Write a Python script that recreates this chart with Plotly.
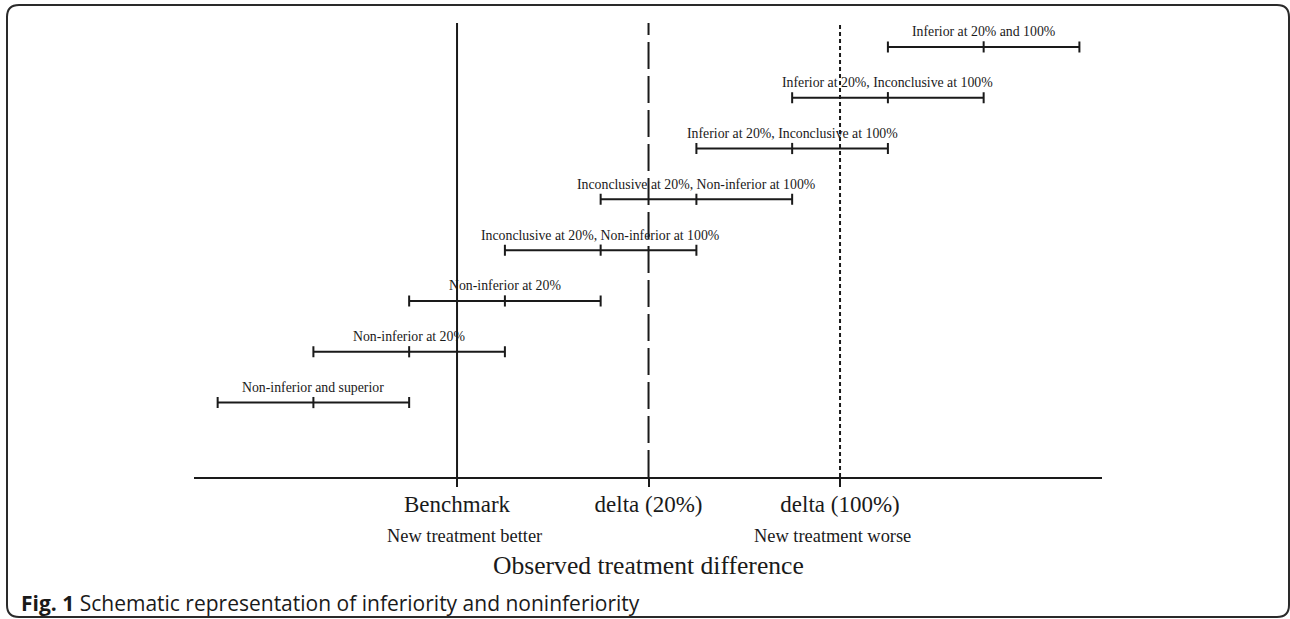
import plotly.graph_objects as go

# ---- data ----
ref_positions = [0, 2, 4]
ref_labels = ["Benchmark", "delta (20%)", "delta (100%)"]
ref_dashes = ["solid", "27px,7px", "4px,3px"]

rows = [1, 2, 3, 4, 5, 6, 7, 8]
ci_lower = [-2.5, -1.5, -0.5, 0.5, 1.5, 2.5, 3.5, 4.5]
ci_center = [-1.5, -0.5, 0.5, 1.5, 2.5, 3.5, 4.5, 5.5]
ci_upper = [-0.5, 0.5, 1.5, 2.5, 3.5, 4.5, 5.5, 6.5]
ci_labels = [
    "Non-inferior and superior",
    "Non-inferior at 20%",
    "Non-inferior at 20%",
    "Inconclusive at 20%, Non-inferior at 100%",
    "Inconclusive at 20%, Non-inferior at 100%",
    "Inferior at 20%, Inconclusive at 100%",
    "Inferior at 20%, Inconclusive at 100%",
    "Inferior at 20% and 100%",
]
side_labels = ["New treatment better", "New treatment worse"]
side_positions = [0.08, 3.92]
axis_title = "Observed treatment difference"
caption_bold = "Fig. 1"
caption_text = "Schematic representation of inferiority and noninferiority"

# ---- layout geometry ----
WIDTH, HEIGHT = 1290, 619
L, T, PW, PH = 194, 23, 908, 454
XR = [-2.747, 6.736]
YR = [-0.465, 8.47]
INK = "#1a1a1a"
SERIF = "Liberation Serif, Times New Roman, serif"
SANS = "Open Sans, Noto Sans, sans-serif"


def pxx(x):
    return (x - L) / PW


def pxy(y):
    return (T + PH - y) / PH


fig = go.Figure()

# reference vertical lines
for xv, dash in zip(ref_positions, ref_dashes):
    fig.add_trace(go.Scatter(
        x=[xv, xv], y=YR, mode="lines",
        line=dict(color=INK, width=2, dash=dash),
        hoverinfo="skip", showlegend=False, cliponaxis=False,
    ))

# confidence intervals
fig.add_trace(go.Scatter(
    x=ci_center, y=rows, mode="markers",
    marker=dict(symbol="line-ns", size=8, line=dict(color=INK, width=2), color=INK),
    error_x=dict(
        type="data", symmetric=False,
        array=[u - c for u, c in zip(ci_upper, ci_center)],
        arrayminus=[c - lo for c, lo in zip(ci_center, ci_lower)],
        color=INK, thickness=2, width=5.5,
    ),
    hoverinfo="skip", showlegend=False, cliponaxis=False,
))

annotations = []
for c, r, t in zip(ci_center, rows, ci_labels):
    annotations.append(dict(
        x=c, y=r, xref="x", yref="y", text=t, showarrow=False,
        yshift=15, font=dict(family=SERIF, size=13.8, color=INK),
    ))

for xs, t in zip(side_positions, side_labels):
    annotations.append(dict(
        x=xs, y=pxy(536), xref="x", yref="paper", text=t, showarrow=False,
        xanchor="center", yanchor="middle",
        font=dict(family=SERIF, size=18.4, color=INK),
    ))

annotations.append(dict(
    x=0.5, y=pxy(565), xref="paper", yref="paper", text=axis_title,
    showarrow=False, xanchor="center", yanchor="middle",
    font=dict(family=SERIF, size=25.6, color=INK),
))

annotations.append(dict(
    x=pxx(19), y=pxy(603), xref="paper", yref="paper",
    text="<b>" + caption_bold + "</b> " + caption_text,
    showarrow=False, xanchor="left", yanchor="middle",
    font=dict(family=SANS, size=21, color=INK),
))

# rounded border
x0, x1, y0, y1, rr = 7, 1289, 5, 617, 12
path = (
    f"M {pxx(x0+rr)} {pxy(y0)} L {pxx(x1-rr)} {pxy(y0)} "
    f"Q {pxx(x1)} {pxy(y0)} {pxx(x1)} {pxy(y0+rr)} "
    f"L {pxx(x1)} {pxy(y1-rr)} Q {pxx(x1)} {pxy(y1)} {pxx(x1-rr)} {pxy(y1)} "
    f"L {pxx(x0+rr)} {pxy(y1)} Q {pxx(x0)} {pxy(y1)} {pxx(x0)} {pxy(y1-rr)} "
    f"L {pxx(x0)} {pxy(y0+rr)} Q {pxx(x0)} {pxy(y0)} {pxx(x0+rr)} {pxy(y0)} Z"
)
shapes = [dict(type="path", xref="paper", yref="paper", path=path,
               line=dict(color="#2a2a2a", width=2), fillcolor="rgba(0,0,0,0)")]

fig.update_layout(
    width=WIDTH, height=HEIGHT,
    margin=dict(l=L, r=WIDTH - L - PW, t=T, b=HEIGHT - T - PH, pad=0),
    paper_bgcolor="white", plot_bgcolor="white",
    annotations=annotations, shapes=shapes,
    xaxis=dict(
        range=XR, showgrid=False, zeroline=False,
        showline=True, linecolor=INK, linewidth=2,
        tickmode="array", tickvals=ref_positions, ticktext=ref_labels,
        ticks="outside", ticklen=8, tickwidth=2, tickcolor=INK,
        tickfont=dict(family=SERIF, size=23, color=INK),
        ticklabelstandoff=-3,
    ),
    yaxis=dict(range=YR, visible=False, showgrid=False, zeroline=False),
)

fig.write_html(
    "out.html",
    config={"displayModeBar": False},
    post_script="document.body.style.margin='0';document.documentElement.style.overflow='hidden';",
)
